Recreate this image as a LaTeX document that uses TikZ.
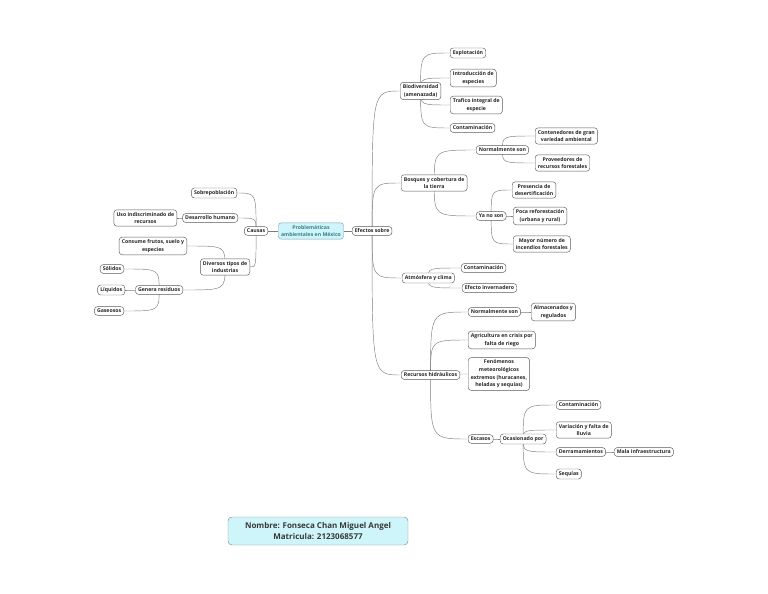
\documentclass[tikz,border=0pt]{standalone}
\usepackage{fontspec}
\setmainfont{Open Sans}
\usetikzlibrary{backgrounds}
\definecolor{celeste}{RGB}{206,246,250}
\definecolor{bordeteal}{RGB}{110,165,175}
\definecolor{textoteal}{RGB}{60,125,140}
\definecolor{linea}{RGB}{125,125,125}
\tikzset{
  idea/.style={draw=black!65, fill=white, rounded corners=3pt, line width=0.45pt,
    inner xsep=2.6pt, inner ysep=2.4pt, align=center, text=black!85,
    font=\fontsize{5.2}{7.6}\selectfont\bfseries},
  tema/.style={idea, fill=celeste, draw=bordeteal, text=textoteal},
  datos/.style={draw=black!45, fill=celeste, rounded corners=4pt, line width=0.45pt,
    minimum width=180pt, minimum height=28pt, align=center, text=black!78,
    font=\fontsize{8}{11}\selectfont\bfseries},
  enlace/.style={draw=linea, line width=0.45pt},
}
\begin{document}
\begin{tikzpicture}[x=1pt, y=-1pt, line join=round, line cap=round]
\useasboundingbox (0,0) rectangle (768,594);
% centro
\node[tema] (prob) at (311,231) {Problemáticas\\ambientales en México};
\node[idea, anchor=east] (causas) at (268,231) {Causas};
\node[idea, anchor=west] (efectos) at (352,231) {Efectos sobre};
% causas
\node[idea, anchor=east] (sobrep) at (237,193) {Sobrepoblación};
\node[idea, anchor=east] (desarr) at (238,218) {Desarrollo humano};
\node[idea, anchor=east] (uso) at (177,218) {Uso indiscriminado de\\recursos};
\node[idea, anchor=east] (divers) at (250,267) {Diversos tipos de\\industrias};
\node[idea, anchor=east] (consume) at (187,246) {Consume frutos, suelo y\\especies};
\node[idea, anchor=east] (genera) at (183,290) {Genera residuos};
\node[idea, anchor=east] (solidos) at (124,269) {Sólidos};
\node[idea, anchor=east] (liquidos) at (125,290) {Líquidos};
\node[idea, anchor=east] (gaseosos) at (124,311) {Gaseosos};
% biodiversidad
\node[idea, anchor=west] (bio) at (400,91) {Biodiversidad\\(amenazada)};
\node[idea, anchor=west] (explot) at (450,53) {Explotación};
\node[idea, anchor=west] (intro) at (450,78) {Introducción de\\especies};
\node[idea, anchor=west] (trafico) at (450,105) {Trafico integral de\\especie};
\node[idea, anchor=west] (contbio) at (450,128) {Contaminación};
% bosques
\node[idea, anchor=west] (bosques) at (401,183) {Bosques y cobertura de\\la tierra};
\node[idea, anchor=west] (normbos) at (476,150) {Normalmente son};
\node[idea, anchor=west] (conten) at (535,136) {Contenedores de gran\\variedad ambiental};
\node[idea, anchor=west] (provee) at (535,163) {Proveedores de\\recursos forestales};
\node[idea, anchor=west] (yano) at (476,216) {Ya no son};
\node[idea, anchor=west] (presen) at (512,190) {Presencia de\\desertificación};
\node[idea, anchor=west] (poca) at (513,216) {Poca reforestación\\(urbana y rural)};
\node[idea, anchor=west] (mayor) at (513,244) {Mayor número de\\incendios forestales};
% atmosfera
\node[idea, anchor=west] (atmos) at (402,278) {Atmósfera y clima};
\node[idea, anchor=west] (contatm) at (461,268) {Contaminación};
\node[idea, anchor=west] (efecto) at (462,288) {Efecto invernadero};
% recursos hidraulicos
\node[idea, anchor=west] (recur) at (401,375) {Recursos hidráulicos};
\node[idea, anchor=west] (normhid) at (468,312) {Normalmente son};
\node[idea, anchor=west] (almac) at (531,312) {Almacenados y\\regulados};
\node[idea, anchor=west] (agri) at (468,340) {Agricultura en crisis por\\falta de riego};
\node[idea, anchor=west] (fenom) at (468,374) {Fenómenos\\meteorológicos\\extremos (huracanes,\\heladas y sequías)};
\node[idea, anchor=west] (escasos) at (468,439) {Escasos};
\node[idea, anchor=west] (ocasion) at (500,439) {Ocasionado por};
\node[idea, anchor=west] (contesc) at (556,405) {Contaminación};
\node[idea, anchor=west] (variac) at (556,430) {Variación y falta de\\lluvia};
\node[idea, anchor=west] (derram) at (556,452) {Derramamientos};
\node[idea, anchor=west] (mala) at (614,452) {Mala infraestructura};
\node[idea, anchor=west] (sequias) at (556,474) {Sequías};
% nombre
\node[datos] (nombre) at (318,531) {Nombre: Fonseca Chan Miguel Angel\\Matricula: 2123068577};
% conexiones
\begin{scope}[on background layer]
\draw[enlace] (prob.west) -- (causas.east);
\draw[enlace] (prob.east) -- (efectos.west);
\foreach \a/\b in {causas/sobrep,causas/desarr,causas/divers,desarr/uso,divers/consume,
    divers/genera,genera/solidos,genera/liquidos,genera/gaseosos}{
  \draw[enlace] (\a.center) .. controls (\a.center |- \b.east) .. (\b.east);
}
\foreach \a/\b in {efectos/bio,efectos/bosques,efectos/atmos,efectos/recur,
    bio/explot,bio/intro,bio/trafico,bio/contbio,
    bosques/normbos,bosques/yano,normbos/conten,normbos/provee,
    yano/presen,yano/poca,yano/mayor,atmos/contatm,atmos/efecto,
    recur/normhid,recur/agri,recur/fenom,recur/escasos,normhid/almac,
    escasos/ocasion,ocasion/contesc,ocasion/variac,ocasion/derram,ocasion/sequias,
    derram/mala}{
  \draw[enlace] (\a.center) .. controls (\a.center |- \b.west) .. (\b.west);
}
\end{scope}
\end{tikzpicture}
\end{document}
